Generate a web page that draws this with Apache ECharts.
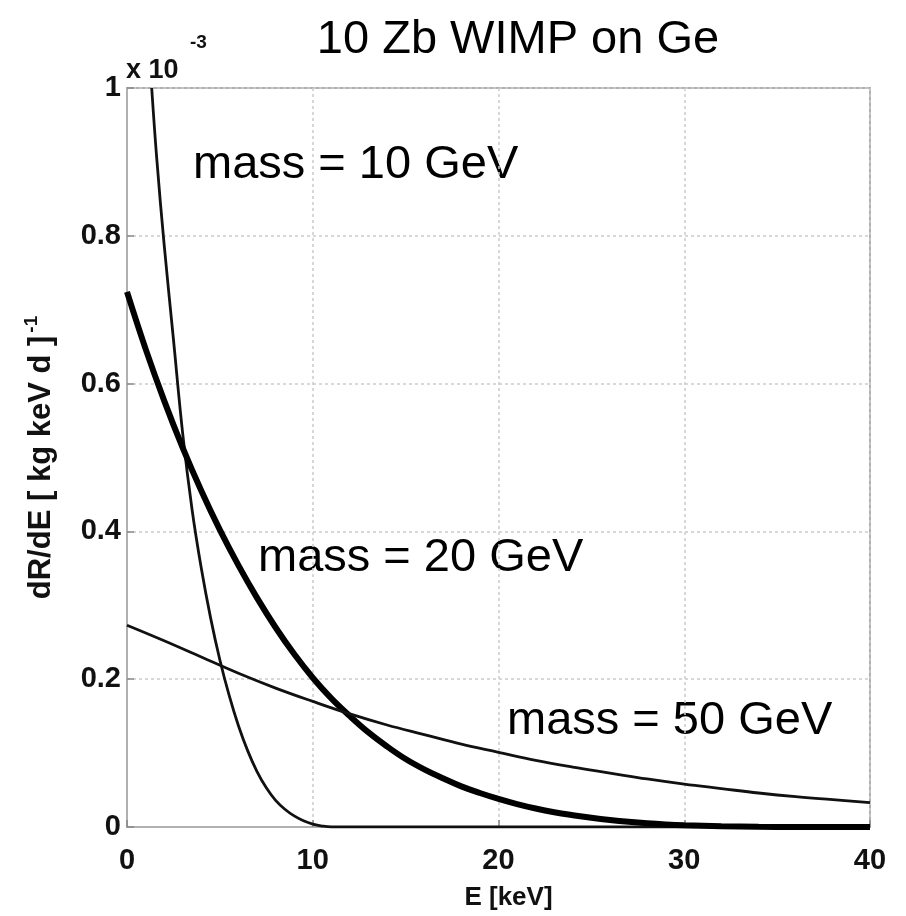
<!DOCTYPE html>
<html>
<head>
<meta charset="utf-8">
<script src="https://cdn.jsdelivr.net/npm/echarts@6/dist/echarts.min.js"></script>
<style>
html,body{margin:0;padding:0;background:#fff;}
#chart{width:906px;height:916px;}
</style>
</head>
<body>
<div id="chart"></div>
<script>
// ---- data (dR/dE in units of 1e-3 per kg keV d) ----
const titleText = '10 Zb WIMP on Ge';
const xTicks = [0, 10, 20, 30, 40];
const yTicks = [0, 0.2, 0.4, 0.6, 0.8, 1];

const energy10 = [1.33, 1.6, 2.0, 2.5, 3.0, 3.5, 4.0, 4.5, 5.0, 5.5, 6.0, 6.5, 7.0, 7.5, 8.0, 8.5, 9.0, 9.5, 10.0, 10.5, 11.0, 20, 30, 40];
const rate10   = [1.00, 0.905, 0.788, 0.66, 0.532, 0.43, 0.35, 0.283, 0.226, 0.178, 0.137, 0.103, 0.075, 0.053, 0.036, 0.024, 0.015, 0.0085, 0.004, 0.0013, 0, 0, 0, 0];

const energy20 = [0, 1, 2, 3, 4, 5, 6, 7, 8, 9, 10, 11, 12, 13, 14, 15, 16, 17, 18, 19, 20, 21, 22, 23, 24, 25, 26, 27, 28, 29, 30, 32, 34, 36, 40];
const rate20   = [0.724, 0.647, 0.577, 0.513, 0.455, 0.402, 0.354, 0.310, 0.270, 0.234, 0.202, 0.174, 0.150, 0.128, 0.109, 0.092, 0.078, 0.066, 0.055, 0.046, 0.038, 0.031, 0.025, 0.020, 0.016, 0.0125, 0.0095, 0.007, 0.005, 0.0035, 0.0024, 0.001, 0.0003, 0, 0];

const energy50 = [0, 2, 4, 6, 8, 10, 12, 14, 16, 18, 20, 22, 24, 26, 28, 30, 32, 34, 36, 38, 40];
const rate50   = [0.273, 0.252, 0.230, 0.208, 0.188, 0.170, 0.153, 0.138, 0.125, 0.112, 0.101, 0.090, 0.081, 0.073, 0.065, 0.058, 0.052, 0.046, 0.041, 0.037, 0.033];

const seriesLabels = ['mass = 10 GeV', 'mass = 20 GeV', 'mass = 50 GeV'];

function pairs(xs, ys) { return xs.map((x, i) => [x, ys[i]]); }

const chart = echarts.init(document.getElementById('chart'), null, {renderer: 'canvas'});
const FONT = '"Liberation Sans", Arial, Helvetica, sans-serif';
const gridCol = '#cccccc';

const option = {
  animation: false,
  backgroundColor: '#ffffff',
  grid: {left: 127, right: 36, top: 88, bottom: 88, show: true, borderColor: '#b0b0b0', borderWidth: 2, backgroundColor: 'transparent'},
  xAxis: {
    type: 'value', min: 0, max: 40, interval: 10,
    name: 'E [keV]', nameLocation: 'middle', nameGap: 58,
    nameTextStyle: {fontFamily: FONT, fontWeight: 'bold', fontSize: 26, color: '#111', padding: [0, 0, 0, 20]},
    axisLine: {show: true, lineStyle: {color: '#b0b0b0', width: 2}},
    axisTick: {show: true, inside: true, length: 7, lineStyle: {color: '#888', width: 1.5}},
    axisLabel: {fontFamily: FONT, fontWeight: 'bold', fontSize: 29, color: '#111', margin: 19,
      formatter: v => xTicks.includes(v) ? String(v) : ''},
    splitLine: {show: true, lineStyle: {color: gridCol, type: [3, 3], width: 1.5}}
  },
  yAxis: {
    type: 'value', min: 0, max: 1, interval: 0.2,
    name: '{a|dR/dE [ kg keV d ]}{s|-1}', nameLocation: 'middle', nameGap: 70, nameRotate: 90,
    nameTextStyle: {fontFamily: FONT, fontWeight: 'bold', color: '#111',
      rich: {a: {fontFamily: FONT, fontWeight: 'bold', fontSize: 31, color: '#111', verticalAlign: 'bottom'},
             s: {fontFamily: FONT, fontWeight: 'bold', fontSize: 19, color: '#111', verticalAlign: 'top', padding: [0, 0, 16, 3]}}},
    axisLine: {show: true, lineStyle: {color: '#b0b0b0', width: 2}},
    axisTick: {show: true, inside: true, length: 7, lineStyle: {color: '#888', width: 1.5}},
    axisLabel: {fontFamily: FONT, fontWeight: 'bold', fontSize: 29, color: '#111', margin: 6,
      formatter: v => { const t = yTicks.find(y => Math.abs(y - v) < 1e-9); return t === undefined ? '' : (t === 0 ? '0' : (t === 1 ? '1' : t.toFixed(1))); }},
    splitLine: {show: true, lineStyle: {color: gridCol, type: [3, 3], width: 1.5}}
  },
  series: [
    {name: seriesLabels[0], type: 'line', data: pairs(energy10, rate10), smooth: 0.4, showSymbol: false, clip: true,
     lineStyle: {color: '#111', width: 2.8}},
    {name: seriesLabels[1], type: 'line', data: pairs(energy20, rate20), smooth: 0.4, showSymbol: false, clip: true,
     lineStyle: {color: '#000', width: 6}},
    {name: seriesLabels[2], type: 'line', data: pairs(energy50, rate50), smooth: 0.4, showSymbol: false, clip: true,
     lineStyle: {color: '#111', width: 2.8}}
  ],
  graphic: [
    {type: 'text', style: {text: titleText, x: 518, y: 40, fill: '#000', font: '47px ' + FONT, textAlign: 'center', textVerticalAlign: 'middle'}},
    {type: 'text', style: {text: seriesLabels[0], x: 193, y: 165, fill: '#000', font: '47px ' + FONT, textAlign: 'left', textVerticalAlign: 'middle'}},
    {type: 'text', style: {text: seriesLabels[1], x: 258, y: 558, fill: '#000', font: '47px ' + FONT, textAlign: 'left', textVerticalAlign: 'middle'}},
    {type: 'text', style: {text: seriesLabels[2], x: 507, y: 721, fill: '#000', font: '47px ' + FONT, textAlign: 'left', textVerticalAlign: 'middle'}},
    {type: 'text', style: {text: 'x 10', x: 126, y: 71, fill: '#111', font: 'bold 27px ' + FONT, textAlign: 'left', textVerticalAlign: 'middle'}},
    {type: 'text', style: {text: '-3', x: 190, y: 43, fill: '#111', font: 'bold 19px ' + FONT, textAlign: 'left', textVerticalAlign: 'middle'}}
  ]
};
chart.setOption(option);
</script>
</body>
</html>
